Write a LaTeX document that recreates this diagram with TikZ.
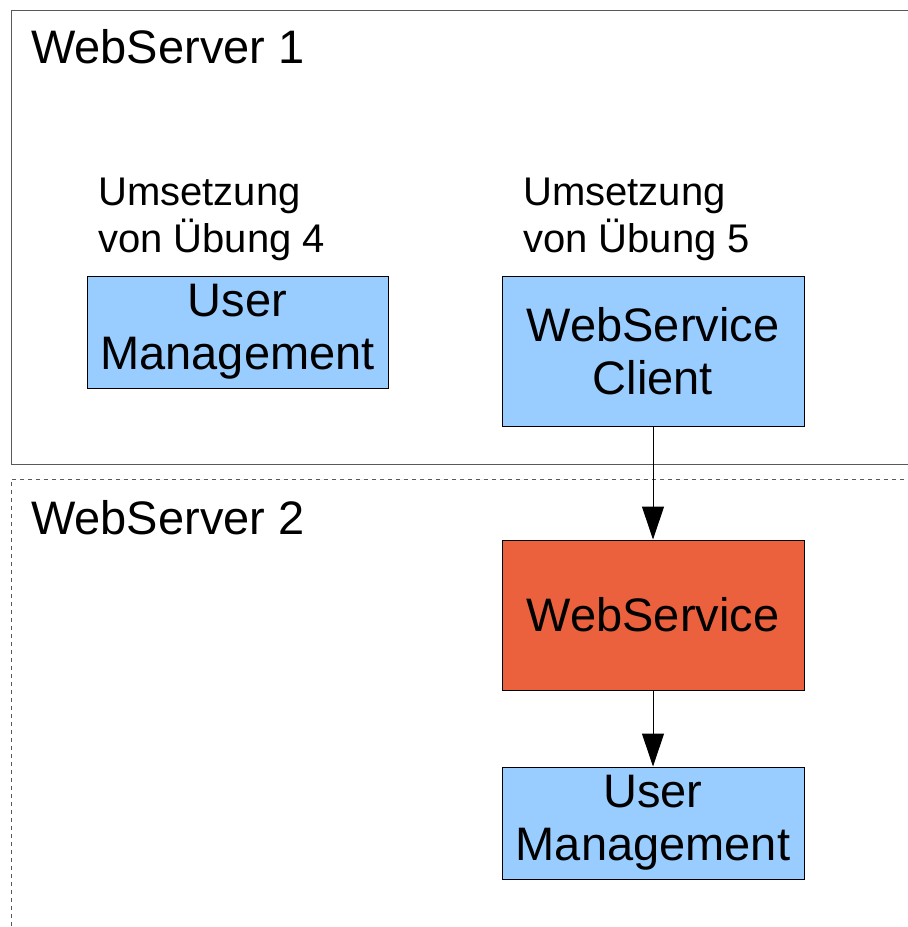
\documentclass[tikz,border=0pt]{standalone}
\usepackage{fontspec}
\setmainfont{Liberation Sans}
\usetikzlibrary{arrows.meta}
\definecolor{compblue}{HTML}{99CCFF}
\definecolor{compred}{HTML}{EB613D}

\begin{document}
\begin{tikzpicture}[
  x=1pt, y=-1pt,
  comp/.style={draw,line width=1pt,fill=compblue,minimum width=302pt,inner sep=0pt,align=center,font=\fontsize{47}{53}\selectfont},
  note/.style={inner sep=0pt,align=left,anchor=base west,font=\fontsize{40}{47}\selectfont},
  title/.style={inner sep=0pt,anchor=base west,font=\fontsize{47}{53}\selectfont},
  frame/.style={line width=1pt,black!65},
  flow/.style={line width=1pt,-{Triangle[length=33pt,width=22pt]}}
]
\useasboundingbox (0,0) rectangle (908,927);

% the two servers
\draw[frame] (920,10) -- (11,10) -- (11,464) -- (920,464);
\draw[frame,dash pattern=on 4pt off 4pt] (920,479) -- (11,479) -- (11,940);

\node[title] (srv1) at (31,63) {WebServer 1};
\node[title] (srv2) at (31,534) {WebServer 2};

\node[note] (note4) at (98,252) {Umsetzung\\von Übung 4};
\node[note] (note5) at (523,252) {Umsetzung\\von Übung 5};

\node[comp,minimum width=301pt,minimum height=112pt] (um1) at (237.5,332) {User\\Management};
\node[comp,minimum height=150pt] (client) at (653,351) {WebService\\Client};
\node[comp,fill=compred,minimum height=150pt] (ws) at (653,615) {WebService};
\node[comp,minimum height=112pt] (um2) at (653,823) {User\\Management};

\path (client) edge[flow] (ws)
(ws) edge[flow] (um2)
;

\end{tikzpicture}
\end{document}
